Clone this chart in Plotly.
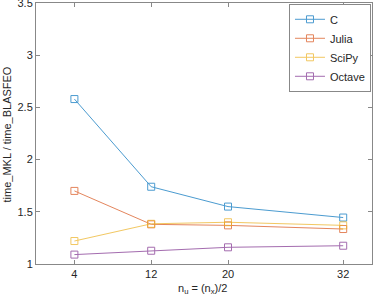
import plotly.graph_objects as go

x_vals = [4, 12, 20, 32]
series_names = ["C", "Julia", "SciPy", "Octave"]
c_vals = [2.58, 1.74, 1.55, 1.445]
julia_vals = [1.70, 1.38, 1.37, 1.335]
scipy_vals = [1.22, 1.385, 1.40, 1.37]
octave_vals = [1.09, 1.127, 1.16, 1.175]
colors = ["#0072BD", "#D95319", "#EDB120", "#7E2F8E"]
x_ticks = [4, 12, 20, 32]
y_ticks = [1, 1.5, 2, 2.5, 3, 3.5]

fig = go.Figure()
for name, vals, col in zip(series_names, [c_vals, julia_vals, scipy_vals, octave_vals], colors):
    fig.add_trace(go.Scatter(
        x=x_vals, y=vals, name=name, mode="lines+markers",
        line=dict(color=col, width=1),
        marker=dict(symbol="square-open", size=7, color=col, line=dict(width=1)),
        opacity=0.7,
    ))

axis_common = dict(
    showline=True, mirror="ticks", linecolor="#888888", linewidth=1,
    ticks="inside", ticklen=4, tickcolor="#888888",
    showgrid=False, zeroline=False, automargin=False, ticklabeloverflow="allow",
    tickfont=dict(family="Liberation Sans, Arial", size=11, color="#262626"),
)
fig.update_layout(
    width=374, height=304,
    margin=dict(l=36, r=2, t=3, b=40, autoexpand=False),
    paper_bgcolor="white", plot_bgcolor="white",
    font=dict(family="Liberation Sans, Arial", size=11, color="#262626"),
    xaxis=dict(range=[0, 35], tickvals=x_ticks, ticktext=[str(t) for t in x_ticks],
               **axis_common),
    yaxis=dict(range=[1, 3.5], tickvals=y_ticks, ticktext=[str(t) for t in y_ticks],
               **axis_common),
    legend=dict(x=0.997, y=0.997, xanchor="right", yanchor="top",
                bgcolor="white", bordercolor="#888888", borderwidth=1,
                font=dict(size=11), itemwidth=30, tracegroupgap=0),
    showlegend=True,
)
fig.add_annotation(text="time_MKL / time_BLASFEO", textangle=-90,
                   xref="paper", yref="paper", x=0, y=0.5,
                   xanchor="center", yanchor="middle", xshift=-30, yshift=-1,
                   showarrow=False, font=dict(size=11, color="#262626"))
fig.add_annotation(text="n<sub>u</sub> = (n<sub>x</sub>)/2",
                   xref="paper", yref="paper", x=0.5, y=0,
                   xanchor="center", yanchor="top", xshift=-2, yshift=-16,
                   showarrow=False, font=dict(size=11, color="#262626"))
fig.write_html("out.html", config={"displayModeBar": False},
               post_script="document.body.style.margin='0';document.body.style.padding='0';")
